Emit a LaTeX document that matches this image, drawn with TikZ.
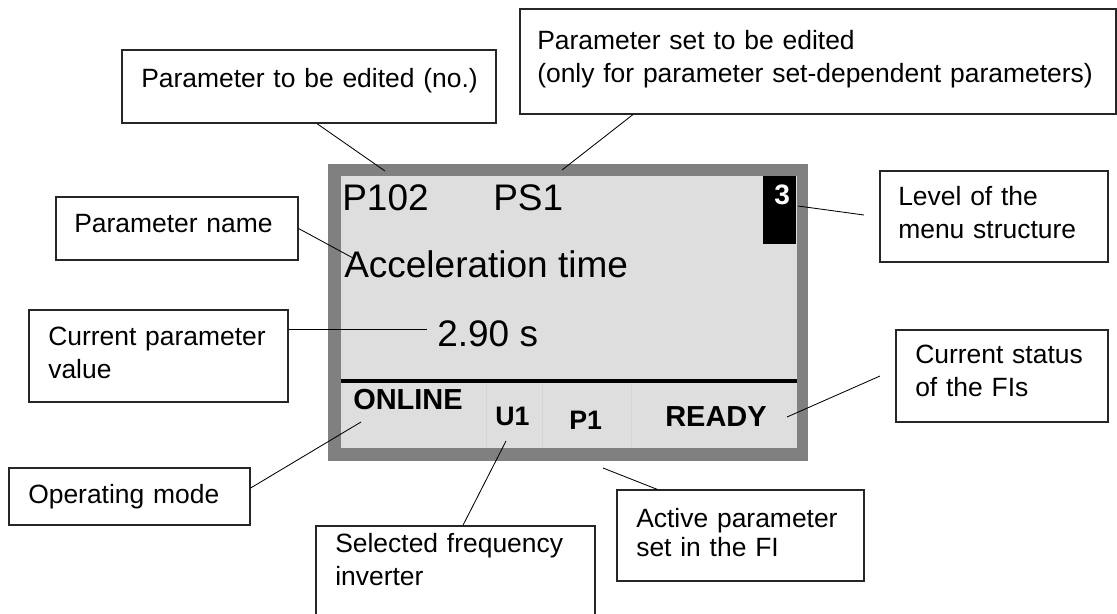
\documentclass[tikz,border=0pt]{standalone}
\usepackage{fontspec}
\setmainfont{Liberation Sans}
\usetikzlibrary{calc, fit}
\definecolor{FrameGray}{HTML}{808080}
\definecolor{LcdGray}{HTML}{DEDEDE}
\tikzset{
    callout/.style={
        draw=black!85,
        line width=0.8pt,
        inner sep=0pt
    },
    lead/.style={draw=black, line width=0.6pt},
    boxtext/.style={
        anchor=base west,
        inner sep=0pt,
        text width=9cm,
        align=left,
        font=\fontsize{18.8}{23.5}\selectfont
    },
    lcdtext/.style={anchor=base west, inner sep=0pt, font=\fontsize{26.3}{30}\selectfont},
    lcdbold/.style={anchor=base west, inner sep=0pt, font=\fontsize{20.6}{24}\selectfont\bfseries}
}

\begin{document}
\begin{tikzpicture}[x=0.025cm, y=-0.025cm]
\useasboundingbox (0,0) rectangle (1117,613);

% Display
\fill[FrameGray] (328,164) rectangle (808,461);
\fill[LcdGray] (341,176) rectangle (797,448);
\fill[black] (763,176) rectangle (796,244);
\foreach \x in {486,542,631}
    \draw[black, opacity=0.04, line width=0.5pt] (\x,383) -- (\x,448);
\draw[line width=2.7pt] (341,381) -- (797,381);

% Display texts
\node[lcdtext] (p102) at (342,210) {P102};
\node[lcdtext] (ps1) at (493,210) {PS1};
\node[lcdtext] (accel) at (344,277) {Acceleration time};
\node[lcdtext] (value) at (437,346) {2.90 s};
\node[lcdbold] (online) at (353,409) {ONLINE};
\node[lcdbold, font=\fontsize{19}{22}\selectfont\bfseries] (u1) at (495,425) {U1};
\node[lcdbold, font=\fontsize{19}{22}\selectfont\bfseries] (p1) at (569,429) {P1};
\node[lcdbold] (ready) at (665,426) {READY};
\node[lcdbold, text=white, font=\fontsize{20}{22}\selectfont\bfseries] (level) at (774,204) {3};

% Tips of the connectors
\coordinate (pnumtip) at (385,171);
\coordinate (psettip) at (562,170);
\coordinate (lvltip) at (798,206);
\coordinate (lvlend) at (864,215);
\coordinate (nametip) at (353,258);
\coordinate (valtip) at (427,329);
\coordinate (modetip) at (361,422);
\coordinate (invtip) at (506,441);
\coordinate (actpstip) at (603,468);
\coordinate (readytip) at (787,417);
\coordinate (statend) at (880,376);

% Callout boxes
\node[callout, fit={(122,50) (496,123)}] (pedit) {};
\node[boxtext] (pedit-t) at (141,87) {Parameter to be edited (no.)};

\node[callout, fit={(520,9) (1116,114)}] (pset) {};
\node[boxtext, text width=14cm] (pset-t) at (537,49)
    {Parameter set to be edited\\(only for parameter set-dependent parameters)};

\node[callout, fit={(880,171) (1108,262)}] (lvl) {};
\node[boxtext] (lvl-t) at (898,205) {Level of the\\menu structure};

\node[callout, fit={(56,197) (298,260)}] (pname) {};
\node[boxtext] (pname-t) at (74,232) {Parameter name};

\node[callout, fit={(29,310) (288,402)}] (curval) {};
\node[boxtext] (curval-t) at (48,345) {Current parameter\\value};

\node[callout, fit={(9,468) (250,525)}] (opmode) {};
\node[boxtext] (opmode-t) at (28,503) {Operating mode};

\node[callout, fit={(316,526) (595,630)}] (selinv) {};
\node[boxtext] (selinv-t) at (335,552) {Selected frequency\\inverter};

\node[callout, fit={(617,490) (864,581)}] (actps) {};
\node[boxtext, font=\fontsize{18.8}{21.3}\selectfont] (actps-t) at (636,527) {Active parameter\\set in the FI};

\node[callout, fit={(896,330) (1108,422)}] (status) {};
\node[boxtext] (status-t) at (915,363) {Current status\\of the FIs};

% Connectors
\draw[lead] (pedit.-78) -- (pnumtip);
\draw[lead] (pset.-164) -- (psettip);
\draw[lead] (lvltip) -- (lvlend);
\draw[lead] (pname.east) -- (nametip);
\draw[lead] (valtip -| curval.east) -- (valtip);
\draw[lead] (opmode.4) -- (modetip);
\draw[lead] (selinv.82) -- (invtip);
\draw[lead] (actps.151) -- (actpstip);
\draw[lead] (readytip) -- (statend);

\end{tikzpicture}
\end{document}
